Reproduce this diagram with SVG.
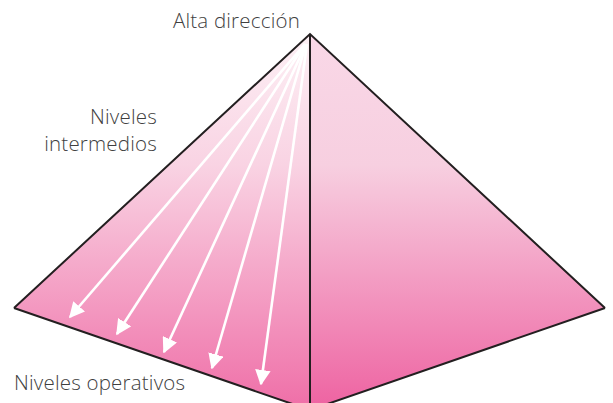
<svg xmlns="http://www.w3.org/2000/svg" width="613" height="403" viewBox="0 0 613 403">
<defs>
<linearGradient id="gl" x1="0" y1="34" x2="0" y2="410" gradientUnits="userSpaceOnUse">
<stop offset="0" stop-color="#fdf0f5"/>
<stop offset="0.35" stop-color="#f9d3e3"/>
<stop offset="1" stop-color="#ef6ea7"/>
</linearGradient>
<linearGradient id="gr" x1="0" y1="34" x2="0" y2="410" gradientUnits="userSpaceOnUse">
<stop offset="0" stop-color="#f9d8e7"/>
<stop offset="0.35" stop-color="#f7cfe0"/>
<stop offset="1" stop-color="#ee62a1"/>
</linearGradient>
<marker id="ah" viewBox="0 0 10 10" refX="9" refY="5" markerWidth="6" markerHeight="6" orient="auto" markerUnits="strokeWidth">
<path d="M0,0 L10,5 L0,10 z" fill="#fff"/>
</marker>
<style>
.edge{fill:none;stroke:#231f20;stroke-width:2;stroke-linejoin:miter}
.arr{stroke:#fff;stroke-width:2.6;fill:none;marker-end:url(#ah)}
.t{font-family:"Open Sans","Liberation Sans",sans-serif;font-weight:300;font-size:20.5px;letter-spacing:0.2px;fill:#3f3f3f}
</style>
</defs>
<g id="pyramid">
<polygon points="310,34 14,308 310,410" fill="url(#gl)"/>
<polygon points="310,34 605,308 310,410" fill="url(#gr)"/>
</g>
<g id="connectors">
<line class="arr" x1="305" y1="44" x2="70" y2="317"/>
<line class="arr" x1="305" y1="44" x2="117" y2="334"/>
<line class="arr" x1="306" y1="44" x2="164" y2="352"/>
<line class="arr" x1="306" y1="44" x2="212" y2="368"/>
<line class="arr" x1="307" y1="44" x2="261" y2="384"/>
</g>
<g id="outline">
<polyline class="edge" points="14,308 310,34 605,308"/>
<line class="edge" x1="310" y1="34" x2="310" y2="410"/>
<polyline class="edge" points="14,308 310,410 605,308"/>
</g>
<g id="label-alta"><text class="t" x="300" y="28" text-anchor="end">Alta dirección</text></g>
<g id="label-intermedios"><text class="t" x="157" y="124" text-anchor="end">Niveles</text><text class="t" x="157" y="151" text-anchor="end">intermedios</text></g>
<g id="label-operativos"><text class="t" x="14" y="390">Niveles operativos</text></g>
</svg>
